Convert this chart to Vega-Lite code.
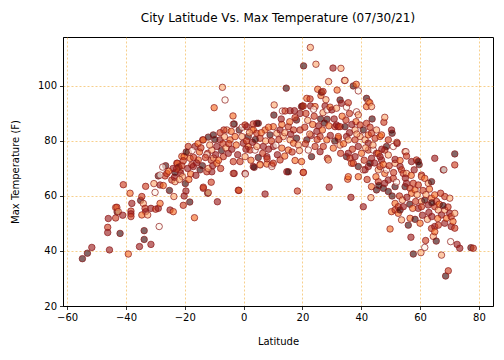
{
"$schema": "https://vega.github.io/schema/vega-lite/v6.json",
"width": 430, "height": 269,
"autosize": {"type": "none"},
"padding": {"left": 63, "top": 37, "right": 11, "bottom": 54},
"title": {"text": "City Latitude Vs. Max Temperature (07/30/21)", "fontSize": 12, "font": "DejaVu Sans", "fontWeight": "normal", "offset": 12, "anchor": "middle", "color": "black"},
"config": {
 "view": {"stroke": "black", "strokeWidth": 1},
 "axis": {"labelFont": "DejaVu Sans", "labelFontSize": 10, "labelColor": "black", "titleFont": "DejaVu Sans", "titleFontSize": 10, "titleFontWeight": "normal", "titleColor": "black", "domainColor": "black", "tickColor": "black", "tickSize": 3.5, "tickWidth": 0.8, "labelPadding": 3, "gridColor": "#f0a830", "gridOpacity": 0.8, "gridDash": [2, 2], "gridWidth": 0.7, "labelExpr": "replace(datum.label, '-', '−')"}
},
"data": {"values": [
{"lat":-54.8,"t":37.2,"c":0},{"lat":-53.1,"t":39.2,"c":0},{"lat":-51.6,"t":41.3,"c":1},{"lat":-46.2,"t":48.6,"c":2},{"lat":-46.2,"t":46.7,"c":1},{"lat":-46,"t":51.8,"c":1},{"lat":-45.6,"t":40.4,"c":1},{"lat":-43.5,"t":52,"c":2},{"lat":-43,"t":54.2,"c":0},{"lat":-43.5,"t":55.8,"c":3},{"lat":-43.1,"t":55.9,"c":2},{"lat":-42.6,"t":54.3,"c":4},{"lat":-42,"t":46.4,"c":0},{"lat":-41.1,"t":53,"c":1},{"lat":-40.9,"t":64.1,"c":2},{"lat":-39.2,"t":38.9,"c":3},{"lat":-38.6,"t":61,"c":3},{"lat":-38.3,"t":54.5,"c":2},{"lat":-38.3,"t":53.5,"c":1},{"lat":-38.3,"t":52.5,"c":2},
{"lat":-38,"t":57.3,"c":1},{"lat":-35.4,"t":41.6,"c":1},{"lat":-35,"t":58.4,"c":0},{"lat":-34.6,"t":59.8,"c":2},{"lat":-34.1,"t":57.3,"c":4},{"lat":-33.5,"t":55.5,"c":2},{"lat":-33.3,"t":54.3,"c":1},{"lat":-34.6,"t":53.1,"c":3},{"lat":-33.8,"t":47.4,"c":0},{"lat":-33.8,"t":44.2,"c":0},{"lat":-33.3,"t":63.5,"c":2},{"lat":-32.6,"t":53.1,"c":4},{"lat":-31.5,"t":55.5,"c":1},{"lat":-31.5,"t":42.4,"c":1},{"lat":-30.1,"t":61.3,"c":5},{"lat":-29.9,"t":55.2,"c":2},{"lat":-30.5,"t":64.5,"c":4},{"lat":-29,"t":55.5,"c":1},{"lat":-28.4,"t":57.3,"c":3},{"lat":-28.7,"t":48.9,"c":5},
{"lat":-28.4,"t":64,"c":1},{"lat":-27.3,"t":63.8,"c":3},{"lat":-29,"t":67.3,"c":0},{"lat":-26.7,"t":67.3,"c":2},{"lat":-28.4,"t":67.6,"c":5},{"lat":-26.1,"t":68.2,"c":2},{"lat":-25,"t":54.9,"c":1},{"lat":-23.9,"t":54.3,"c":3},{"lat":-25.2,"t":62,"c":0},{"lat":-23.7,"t":59.8,"c":4},{"lat":-24.4,"t":65.8,"c":2},{"lat":-23.3,"t":65.2,"c":4},{"lat":-23.5,"t":66.8,"c":1},{"lat":-23.3,"t":68.5,"c":0},{"lat":-22.7,"t":71.9,"c":3},{"lat":-22.5,"t":71.9,"c":2},{"lat":-21.6,"t":69.5,"c":4},{"lat":-21.4,"t":68.3,"c":1},{"lat":-21,"t":74.4,"c":3},{"lat":-20.5,"t":56.6,"c":2},
{"lat":-20.2,"t":60,"c":1},{"lat":-20.2,"t":74.3,"c":3},{"lat":-22,"t":70.5,"c":0},{"lat":-21,"t":71,"c":2},{"lat":-20.8,"t":67,"c":4},{"lat":-22.8,"t":69.8,"c":2},{"lat":-24,"t":70,"c":1},{"lat":-25.5,"t":69,"c":3},{"lat":-26.5,"t":71,"c":0},{"lat":-27.5,"t":70.5,"c":5},{"lat":-20.5,"t":72.8,"c":2},{"lat":-21.8,"t":66,"c":4},{"lat":-19.6,"t":61.8,"c":1},{"lat":-18.3,"t":57.8,"c":0},{"lat":-18.2,"t":73.7,"c":3},{"lat":-18.8,"t":78,"c":2},{"lat":-18.8,"t":75.8,"c":4},{"lat":-16.5,"t":78,"c":1},{"lat":-16.7,"t":52.1,"c":3},{"lat":-17.6,"t":71.3,"c":2},
{"lat":-17.1,"t":70.7,"c":1},{"lat":-15.4,"t":73.1,"c":3},{"lat":-14.8,"t":69.5,"c":0},{"lat":-13.7,"t":62.8,"c":2},{"lat":-12.2,"t":61,"c":0},{"lat":-12.2,"t":75.5,"c":2},{"lat":-13.9,"t":80.4,"c":1},{"lat":-13.7,"t":80.4,"c":3},{"lat":-12,"t":81.4,"c":0},{"lat":-12.5,"t":75,"c":5},{"lat":-12.5,"t":68.8,"c":2},{"lat":-10.8,"t":76.7,"c":4},{"lat":-10.8,"t":68.8,"c":1},{"lat":-10.3,"t":82.2,"c":0},{"lat":-10,"t":92.1,"c":3},{"lat":-13.7,"t":63.2,"c":2},{"lat":-12,"t":61.2,"c":4},{"lat":-19,"t":70,"c":1},{"lat":-18,"t":68,"c":3},{"lat":-17,"t":74,"c":2},
{"lat":-16,"t":72,"c":1},{"lat":-15,"t":76,"c":3},{"lat":-14,"t":71,"c":0},{"lat":-13,"t":74,"c":2},{"lat":-12,"t":70,"c":4},{"lat":-11,"t":73,"c":2},{"lat":-10.5,"t":71,"c":1},{"lat":-15.5,"t":79,"c":3},{"lat":-19.5,"t":76,"c":0},{"lat":-17.5,"t":76.5,"c":5},{"lat":-14.5,"t":77.5,"c":2},{"lat":-11.5,"t":78.5,"c":4},{"lat":-16.2,"t":67.5,"c":1},{"lat":-19.8,"t":64.5,"c":0},{"lat":-18.6,"t":66,"c":3},{"lat":-11,"t":65,"c":2},{"lat":-10.2,"t":73.8,"c":4},{"lat":-9.1,"t":78,"c":1},{"lat":-9.1,"t":71.9,"c":3},{"lat":-8.9,"t":57.9,"c":1},
{"lat":-8,"t":80.4,"c":1},{"lat":-7.2,"t":99.5,"c":4},{"lat":-6.3,"t":94.9,"c":5},{"lat":-6.9,"t":74.3,"c":2},{"lat":-5.7,"t":84,"c":4},{"lat":-6.7,"t":84,"c":2},{"lat":-5.2,"t":75.5,"c":1},{"lat":-4.6,"t":80.4,"c":3},{"lat":-3.6,"t":89.1,"c":3},{"lat":-3.5,"t":86.1,"c":5},{"lat":-3.5,"t":72.5,"c":2},{"lat":-3.5,"t":68.2,"c":4},{"lat":-3.2,"t":68.2,"c":1},{"lat":-3.2,"t":86.2,"c":0},{"lat":-2.9,"t":81.6,"c":3},{"lat":-1.2,"t":72.5,"c":2},{"lat":-0.6,"t":81.6,"c":4},{"lat":-0.1,"t":79.2,"c":1},{"lat":-1.8,"t":62.1,"c":3},{"lat":-1.6,"t":62,"c":2},
{"lat":-9.5,"t":75,"c":1},{"lat":-8.5,"t":73,"c":3},{"lat":-7.5,"t":76.5,"c":0},{"lat":-7,"t":79,"c":2},{"lat":-6,"t":77.5,"c":4},{"lat":-5,"t":79,"c":2},{"lat":-4,"t":77,"c":1},{"lat":-2.5,"t":78.5,"c":3},{"lat":-1.5,"t":84,"c":0},{"lat":-0.5,"t":85,"c":5},{"lat":-8,"t":83,"c":2},{"lat":-6.5,"t":81.5,"c":4},{"lat":-2,"t":75,"c":1},{"lat":-9.8,"t":80.5,"c":0},{"lat":-4.2,"t":83.5,"c":3},{"lat":-7.8,"t":70,"c":2},{"lat":0.5,"t":74.3,"c":4},{"lat":0.5,"t":68.2,"c":1},{"lat":0.6,"t":68,"c":5},{"lat":0.5,"t":85.8,"c":2},
{"lat":1.1,"t":85.2,"c":1},{"lat":1.6,"t":78,"c":3},{"lat":1.6,"t":81.6,"c":0},{"lat":2.2,"t":76.7,"c":2},{"lat":2.8,"t":84,"c":4},{"lat":3.3,"t":86.2,"c":2},{"lat":3.3,"t":70.7,"c":1},{"lat":3.3,"t":84,"c":3},{"lat":3.6,"t":70.4,"c":0},{"lat":3.9,"t":76.7,"c":5},{"lat":4.5,"t":82.8,"c":2},{"lat":4.5,"t":78,"c":4},{"lat":4.5,"t":86.4,"c":1},{"lat":5,"t":86.4,"c":0},{"lat":5.6,"t":71.5,"c":3},{"lat":5.6,"t":81,"c":2},{"lat":5.6,"t":71.3,"c":4},{"lat":6.7,"t":78,"c":1},{"lat":7.3,"t":84,"c":3},{"lat":7.3,"t":60.7,"c":1},
{"lat":7.9,"t":74.3,"c":1},{"lat":7.9,"t":71.6,"c":3},{"lat":9,"t":82.2,"c":0},{"lat":9.6,"t":71.3,"c":2},{"lat":9.6,"t":70.7,"c":5},{"lat":10.1,"t":71.9,"c":2},{"lat":10.1,"t":78,"c":1},{"lat":10.1,"t":85.2,"c":3},{"lat":10.3,"t":89.4,"c":0},{"lat":10.4,"t":93.1,"c":4},{"lat":1,"t":80,"c":2},{"lat":2,"t":83,"c":4},{"lat":3,"t":79.5,"c":1},{"lat":4,"t":80.5,"c":0},{"lat":6,"t":83,"c":3},{"lat":6.5,"t":75.5,"c":2},{"lat":7.5,"t":80,"c":4},{"lat":8.5,"t":77,"c":1},{"lat":8.5,"t":85,"c":3},{"lat":9.5,"t":80,"c":2},
{"lat":0.8,"t":77,"c":1},{"lat":2.5,"t":73,"c":3},{"lat":5,"t":74,"c":0},{"lat":8,"t":73.5,"c":2},{"lat":11.3,"t":82.8,"c":4},{"lat":12.4,"t":73.1,"c":2},{"lat":12.4,"t":84,"c":1},{"lat":13,"t":77.4,"c":3},{"lat":13.2,"t":90.9,"c":5},{"lat":13.5,"t":81.6,"c":4},{"lat":14.1,"t":90.9,"c":2},{"lat":14.5,"t":99.2,"c":0},{"lat":14.7,"t":68.8,"c":1},{"lat":15.2,"t":68.8,"c":0},{"lat":15.2,"t":76.7,"c":3},{"lat":15.2,"t":85.2,"c":2},{"lat":15.8,"t":80.4,"c":4},{"lat":15.8,"t":91,"c":1},{"lat":17,"t":79.2,"c":3},{"lat":17,"t":84,"c":2},
{"lat":17.3,"t":91,"c":1},{"lat":17.5,"t":72.9,"c":3},{"lat":18,"t":87.6,"c":0},{"lat":18.3,"t":61.8,"c":2},{"lat":18.6,"t":78.5,"c":4},{"lat":19.2,"t":84,"c":2},{"lat":19.2,"t":90,"c":1},{"lat":19.7,"t":72.5,"c":3},{"lat":19.7,"t":92.5,"c":0},{"lat":11,"t":78.5,"c":5},{"lat":12,"t":80.5,"c":2},{"lat":14,"t":83,"c":4},{"lat":16,"t":82.5,"c":1},{"lat":18,"t":81,"c":0},{"lat":13,"t":86,"c":3},{"lat":16.5,"t":76,"c":2},{"lat":19,"t":76.5,"c":4},{"lat":11.5,"t":75,"c":1},{"lat":14,"t":74.5,"c":3},{"lat":17.5,"t":88.5,"c":2},
{"lat":12.8,"t":88,"c":1},{"lat":15.7,"t":87,"c":3},{"lat":20,"t":92.7,"c":0},{"lat":20.3,"t":92.7,"c":2},{"lat":20.3,"t":68.5,"c":4},{"lat":20.3,"t":68.6,"c":2},{"lat":20.4,"t":107.3,"c":0},{"lat":21.5,"t":95.5,"c":3},{"lat":21.5,"t":80.4,"c":0},{"lat":22,"t":76.7,"c":5},{"lat":22.6,"t":95.3,"c":2},{"lat":22.7,"t":114,"c":4},{"lat":22.8,"t":92.7,"c":1},{"lat":23.1,"t":74.3,"c":0},{"lat":24.3,"t":92.5,"c":3},{"lat":24.3,"t":78,"c":2},{"lat":24.6,"t":107.9,"c":4},{"lat":24.9,"t":83.5,"c":1},{"lat":25.2,"t":98.8,"c":3},{"lat":26,"t":81.6,"c":2},
{"lat":26,"t":76.1,"c":1},{"lat":26.3,"t":96.5,"c":3},{"lat":26.5,"t":97.7,"c":0},{"lat":27,"t":98,"c":2},{"lat":27,"t":90.3,"c":4},{"lat":27.1,"t":78,"c":2},{"lat":27.7,"t":92.7,"c":1},{"lat":28.3,"t":80.4,"c":3},{"lat":28.4,"t":87.9,"c":0},{"lat":28.4,"t":91.3,"c":5},{"lat":28.5,"t":73.7,"c":2},{"lat":28.8,"t":73.1,"c":4},{"lat":28.9,"t":101.6,"c":4},{"lat":29.1,"t":63.2,"c":1},{"lat":29.4,"t":92.3,"c":3},{"lat":20.8,"t":85,"c":2},{"lat":21.8,"t":87.5,"c":4},{"lat":23,"t":82,"c":1},{"lat":23.5,"t":86,"c":3},{"lat":24,"t":89,"c":2},
{"lat":25.5,"t":85.5,"c":1},{"lat":26.8,"t":84,"c":3},{"lat":27.5,"t":86.5,"c":0},{"lat":21,"t":79,"c":2},{"lat":22.5,"t":82.5,"c":4},{"lat":25,"t":80.5,"c":2},{"lat":29.5,"t":82,"c":1},{"lat":29,"t":85.5,"c":3},{"lat":26.2,"t":88,"c":0},{"lat":23.8,"t":91.5,"c":5},{"lat":21.2,"t":90,"c":2},{"lat":28,"t":95,"c":4},{"lat":30,"t":91.3,"c":1},{"lat":30.4,"t":106.5,"c":1},{"lat":30.5,"t":77.4,"c":3},{"lat":31.1,"t":85.2,"c":2},{"lat":31.6,"t":91.9,"c":4},{"lat":31.6,"t":85.8,"c":1},{"lat":31.8,"t":98.5,"c":3},{"lat":32.2,"t":81,"c":2},
{"lat":32.2,"t":85.2,"c":1},{"lat":32.2,"t":81.6,"c":3},{"lat":32.8,"t":94.9,"c":0},{"lat":32.8,"t":85.2,"c":2},{"lat":32.8,"t":78.5,"c":4},{"lat":33.1,"t":106.4,"c":4},{"lat":33.3,"t":93.7,"c":1},{"lat":34.3,"t":102,"c":5},{"lat":34.5,"t":85.2,"c":0},{"lat":34.5,"t":102,"c":4},{"lat":34.8,"t":87.6,"c":2},{"lat":35,"t":92.3,"c":5},{"lat":35,"t":81.6,"c":1},{"lat":35,"t":74.3,"c":0},{"lat":35.4,"t":66.1,"c":3},{"lat":35.6,"t":93.9,"c":2},{"lat":35.6,"t":80.4,"c":4},{"lat":35.6,"t":75.5,"c":1},{"lat":35.6,"t":67,"c":3},{"lat":36.2,"t":73.7,"c":2},
{"lat":36.5,"t":59.5,"c":1},{"lat":36.7,"t":71.9,"c":3},{"lat":37.3,"t":100,"c":0},{"lat":37.3,"t":71.9,"c":2},{"lat":37.9,"t":84,"c":4},{"lat":37.9,"t":80.4,"c":2},{"lat":37.9,"t":74.3,"c":1},{"lat":38.2,"t":87,"c":3},{"lat":38.3,"t":100.6,"c":3},{"lat":38.4,"t":90.6,"c":5},{"lat":39,"t":98.2,"c":5},{"lat":39,"t":89.5,"c":4},{"lat":39,"t":78,"c":1},{"lat":39,"t":70.7,"c":0},{"lat":39,"t":67,"c":3},{"lat":39.6,"t":85.8,"c":2},{"lat":39.6,"t":81.6,"c":4},{"lat":30.8,"t":88,"c":1},{"lat":33.5,"t":89,"c":3},{"lat":36,"t":90,"c":2},
{"lat":36.8,"t":86,"c":1},{"lat":34,"t":79,"c":3},{"lat":31,"t":80,"c":0},{"lat":37,"t":77,"c":2},{"lat":38.5,"t":82.5,"c":4},{"lat":33,"t":75.5,"c":2},{"lat":36,"t":83,"c":1},{"lat":40.1,"t":75.5,"c":3},{"lat":40.7,"t":84,"c":0},{"lat":40.7,"t":69.5,"c":5},{"lat":40.7,"t":56.1,"c":1},{"lat":41.3,"t":80.4,"c":4},{"lat":41.3,"t":69.5,"c":1},{"lat":41.8,"t":95.5,"c":0},{"lat":41.8,"t":92.5,"c":3},{"lat":41.8,"t":86.4,"c":2},{"lat":42.4,"t":94.3,"c":4},{"lat":42.4,"t":79.2,"c":1},{"lat":42.4,"t":82.2,"c":3},{"lat":42.4,"t":76.7,"c":2},
{"lat":42.4,"t":70.7,"c":1},{"lat":42.9,"t":93.9,"c":3},{"lat":43,"t":71.9,"c":0},{"lat":43.3,"t":59.4,"c":4},{"lat":43.5,"t":92.5,"c":4},{"lat":43.5,"t":82.8,"c":2},{"lat":43.5,"t":73.7,"c":1},{"lat":43.5,"t":63.4,"c":3},{"lat":43.7,"t":88,"c":0},{"lat":44.1,"t":76.7,"c":5},{"lat":44.7,"t":81,"c":2},{"lat":45.2,"t":84,"c":4},{"lat":45.2,"t":75.5,"c":1},{"lat":45.2,"t":62.2,"c":0},{"lat":45.8,"t":75.5,"c":3},{"lat":45.8,"t":65.2,"c":2},{"lat":45.8,"t":69.5,"c":4},{"lat":46.4,"t":74.3,"c":1},{"lat":46.4,"t":81.6,"c":3},{"lat":46.4,"t":70.7,"c":2},
{"lat":46.9,"t":73.1,"c":1},{"lat":46.9,"t":82.2,"c":3},{"lat":47.5,"t":62.8,"c":0},{"lat":47.7,"t":86.8,"c":2},{"lat":48,"t":88.6,"c":4},{"lat":48,"t":76.7,"c":2},{"lat":48,"t":64.6,"c":1},{"lat":48,"t":68.2,"c":3},{"lat":48.6,"t":78,"c":0},{"lat":48.6,"t":69.5,"c":5},{"lat":49.2,"t":80.4,"c":2},{"lat":49.2,"t":74.9,"c":4},{"lat":49.2,"t":65.8,"c":1},{"lat":49.2,"t":61.6,"c":0},{"lat":49.8,"t":48,"c":3},{"lat":41,"t":73,"c":2},{"lat":44,"t":78.5,"c":4},{"lat":47,"t":77,"c":1},{"lat":45,"t":67,"c":3},{"lat":42,"t":66,"c":2},
{"lat":44.5,"t":72,"c":1},{"lat":47.5,"t":71.5,"c":3},{"lat":46,"t":63.8,"c":0},{"lat":49.5,"t":71,"c":2},{"lat":41.5,"t":77.5,"c":4},{"lat":43,"t":85,"c":2},{"lat":50.3,"t":84,"c":1},{"lat":50.3,"t":54.3,"c":3},{"lat":50.5,"t":82.8,"c":0},{"lat":50.9,"t":78,"c":5},{"lat":50.9,"t":66.4,"c":2},{"lat":51.5,"t":71.9,"c":4},{"lat":51.5,"t":73.3,"c":1},{"lat":51.5,"t":63.4,"c":0},{"lat":51.5,"t":57.3,"c":3},{"lat":51.5,"t":54.9,"c":2},{"lat":52.1,"t":79.5,"c":4},{"lat":52.2,"t":79.1,"c":1},{"lat":52.6,"t":53.7,"c":3},{"lat":52.6,"t":56.1,"c":2},
{"lat":53.2,"t":70.7,"c":1},{"lat":53.2,"t":72.9,"c":3},{"lat":53.2,"t":54.9,"c":0},{"lat":53.7,"t":69.5,"c":2},{"lat":53.7,"t":51.3,"c":4},{"lat":54.3,"t":68.2,"c":2},{"lat":54.3,"t":56.1,"c":1},{"lat":54.9,"t":76.1,"c":3},{"lat":54.9,"t":63.4,"c":0},{"lat":55.2,"t":76.1,"c":5},{"lat":55.4,"t":74.5,"c":2},{"lat":55.4,"t":68.2,"c":4},{"lat":55.4,"t":64.6,"c":1},{"lat":56,"t":49.4,"c":0},{"lat":56.6,"t":51.9,"c":3},{"lat":56.6,"t":62.8,"c":2},{"lat":56.9,"t":45,"c":1},{"lat":57.1,"t":72.5,"c":1},{"lat":57.1,"t":61,"c":3},{"lat":57.7,"t":64.6,"c":2},
{"lat":57.7,"t":38.9,"c":0},{"lat":58.3,"t":62.2,"c":3},{"lat":58.3,"t":51.5,"c":0},{"lat":58.8,"t":73.1,"c":2},{"lat":59.4,"t":72.5,"c":0},{"lat":59.4,"t":64,"c":2},{"lat":59.4,"t":55.5,"c":1},{"lat":59.7,"t":71.4,"c":0},{"lat":50.5,"t":60,"c":0},{"lat":52,"t":65,"c":5},{"lat":53,"t":60,"c":2},{"lat":54,"t":58.5,"c":4},{"lat":55.5,"t":59.5,"c":1},{"lat":56.5,"t":57,"c":0},{"lat":57.5,"t":55.5,"c":3},{"lat":58.5,"t":58,"c":2},{"lat":59,"t":60.5,"c":4},{"lat":55,"t":66.5,"c":1},{"lat":57,"t":67.5,"c":3},{"lat":51,"t":68.5,"c":2},
{"lat":58,"t":69.5,"c":1},{"lat":60,"t":50.1,"c":3},{"lat":60.3,"t":39.4,"c":4},{"lat":60.5,"t":67.6,"c":2},{"lat":60.5,"t":58,"c":4},{"lat":60.5,"t":56.1,"c":2},{"lat":60.5,"t":67,"c":4},{"lat":61.6,"t":66.4,"c":3},{"lat":61.6,"t":58.5,"c":0},{"lat":61.6,"t":41.3,"c":5},{"lat":61.9,"t":43.8,"c":2},{"lat":62.8,"t":64.6,"c":4},{"lat":62.8,"t":56.7,"c":1},{"lat":63.9,"t":65.2,"c":0},{"lat":63.9,"t":59.2,"c":3},{"lat":63.9,"t":48.2,"c":2},{"lat":64.5,"t":45.3,"c":4},{"lat":65,"t":73.7,"c":1},{"lat":65,"t":60.4,"c":3},{"lat":65,"t":56.1,"c":2},
{"lat":65,"t":48.9,"c":1},{"lat":65,"t":47,"c":3},{"lat":65.5,"t":43.6,"c":0},{"lat":65.6,"t":58,"c":2},{"lat":66.2,"t":54.9,"c":4},{"lat":66.2,"t":49.4,"c":2},{"lat":67.3,"t":53.1,"c":1},{"lat":67.3,"t":38.5,"c":4},{"lat":67.9,"t":69.5,"c":0},{"lat":68.1,"t":69.5,"c":5},{"lat":68.4,"t":59.8,"c":2},{"lat":68.4,"t":54.9,"c":4},{"lat":68.4,"t":50.1,"c":1},{"lat":68.7,"t":30.9,"c":0},{"lat":69,"t":51.9,"c":3},{"lat":69.6,"t":32.8,"c":2},{"lat":70.1,"t":59.2,"c":4},{"lat":70.1,"t":53.7,"c":1},{"lat":70.4,"t":43.4,"c":5},{"lat":70.6,"t":52.5,"c":2},
{"lat":70.6,"t":48.9,"c":1},{"lat":71.2,"t":50.7,"c":3},{"lat":71.8,"t":75.3,"c":0},{"lat":71.8,"t":71.3,"c":2},{"lat":71.8,"t":53.7,"c":4},{"lat":71.8,"t":48.3,"c":2},{"lat":72.6,"t":42.4,"c":1},{"lat":73.5,"t":41,"c":1},{"lat":77.3,"t":41.2,"c":0},{"lat":78.1,"t":41,"c":2},{"lat":61,"t":62,"c":2},{"lat":62,"t":60.5,"c":4},{"lat":63,"t":54,"c":1},{"lat":64,"t":57.5,"c":0},{"lat":66.5,"t":57,"c":3},{"lat":67,"t":61,"c":2},{"lat":62.5,"t":51.5,"c":4},{"lat":64,"t":52.5,"c":1},{"lat":66,"t":51.8,"c":3},{"lat":69.5,"t":56,"c":2},{"lat":60.8,"t":53,"c":1},{"lat":63.2,"t":62.5,"c":3},{"lat":67.8,"t":56.5,"c":0}
]},
"mark": {"type": "point", "filled": true, "shape": "circle", "size": 42, "stroke": "#8b1a1a", "strokeWidth": 1, "fillOpacity": 0.62, "strokeOpacity": 0.7},
"encoding": {
 "x": {"field": "lat", "type": "quantitative", "scale": {"domain": [-61.4, 84.8], "nice": false, "zero": false}, "axis": {"values": [-60, -40, -20, 0, 20, 40, 60, 80], "title": "Latitude", "titlePadding": 14}},
 "y": {"field": "t", "type": "quantitative", "scale": {"domain": [20, 117.8], "nice": false, "zero": false}, "axis": {"values": [20, 40, 60, 80, 100], "title": "Max Temperature (F)", "titlePadding": 17}},
 "color": {"field": "c", "type": "nominal", "scale": {"domain": [0, 1, 2, 3, 4, 5], "range": ["#3a0808", "#9a1a1a", "#cc3a1a", "#f56a20", "#fba870", "#fff4ea"]}, "legend": null}
}
}
